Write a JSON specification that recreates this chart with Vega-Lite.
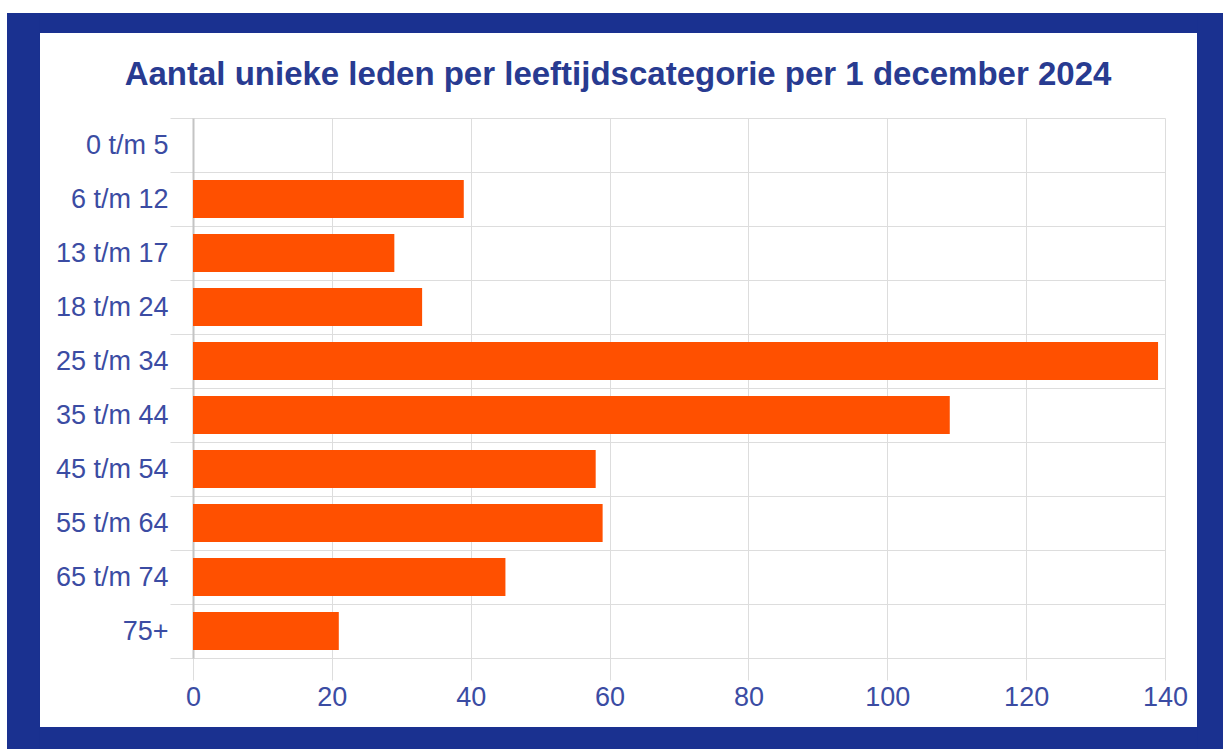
{
  "$schema": "https://vega.github.io/schema/vega-lite/v6.json",
  "autosize": {"type": "none"},
  "width": 972,
  "height": 540,
  "padding": {"left": 193, "top": 118, "right": 58, "bottom": 91},
  "background": "#ffffff",
  "config": {"view": {"stroke": null}, "font": "Liberation Sans"},
  "title": {
    "text": "Aantal unieke leden per leeftijdscategorie per 1 december 2024",
    "font": "Liberation Sans",
    "fontSize": 33,
    "fontWeight": "bold",
    "color": "#283b91",
    "anchor": "middle",
    "baseline": "alphabetic",
    "offset": -105,
    "dx": -61
  },
  "data": {
    "values": [
      {"categorie": "0 t/m 5", "leden": 0},
      {"categorie": "6 t/m 12", "leden": 39},
      {"categorie": "13 t/m 17", "leden": 29},
      {"categorie": "18 t/m 24", "leden": 33},
      {"categorie": "25 t/m 34", "leden": 139},
      {"categorie": "35 t/m 44", "leden": 109},
      {"categorie": "45 t/m 54", "leden": 58},
      {"categorie": "55 t/m 64", "leden": 59},
      {"categorie": "65 t/m 74", "leden": 45},
      {"categorie": "75+", "leden": 21}
    ]
  },
  "layer": [
    {
      "layer": [
        {"mark": {"type": "rect", "color": "#1a3190"},
         "encoding": {
           "x": {"datum": -26.79, "type": "quantitative", "scale": {"domain": [0, 140], "nice": false, "zero": false}},
           "x2": {"datum": 150},
           "y": {"datum": 625, "type": "quantitative", "axis": null, "scale": {"domain": [0, 540], "nice": false, "zero": false}},
           "y2": {"datum": 645}
         }},
        {"mark": {"type": "rect", "color": "#1a3190"},
         "encoding": {
           "x": {"datum": -26.79, "type": "quantitative"},
           "x2": {"datum": 150},
           "y": {"datum": -100, "type": "quantitative", "axis": null},
           "y2": {"datum": -69}
         }},
        {"mark": {"type": "rect", "color": "#1a3190"},
         "encoding": {
           "x": {"datum": -26.79, "type": "quantitative"},
           "x2": {"datum": -22.04},
           "y": {"datum": -100, "type": "quantitative", "axis": null},
           "y2": {"datum": 645}
         }},
        {"mark": {"type": "rect", "color": "#1a3190"},
         "encoding": {
           "x": {"datum": 144.61, "type": "quantitative"},
           "x2": {"datum": 150},
           "y": {"datum": -100, "type": "quantitative", "axis": null},
           "y2": {"datum": 645}
         }}
      ]
    },
    {
      "mark": {"type": "bar", "color": "#ff5000", "height": {"band": 0.7}},
      "encoding": {
        "y": {
          "field": "categorie",
          "type": "nominal",
          "sort": null,
          "scale": {"paddingInner": 0, "paddingOuter": 0},
          "axis": {
            "title": null,
            "tickBand": "extent",
            "grid": true,
            "gridColor": "#dddddd",
            "gridWidth": 1,
            "ticks": true,
            "tickSize": 23,
            "tickColor": "#dddddd",
            "domain": true,
            "domainColor": "#c4c4c4",
            "domainWidth": 2,
            "labelFont": "Liberation Sans",
            "labelFontSize": 27,
            "labelColor": "#3b4ca3",
            "labelPadding": 2
          }
        },
        "x": {
          "field": "leden",
          "type": "quantitative",
          "scale": {"domain": [0, 140], "nice": false, "zero": false},
          "axis": {
            "title": null,
            "values": [0, 20, 40, 60, 80, 100, 120, 140],
            "grid": true,
            "gridColor": "#dddddd",
            "gridWidth": 1,
            "ticks": true,
            "tickSize": 22,
            "tickColor": "#dddddd",
            "domain": false,
            "labelFlush": false,
            "labelFont": "Liberation Sans",
            "labelFontSize": 27,
            "labelColor": "#3b4ca3",
            "labelPadding": 4
          }
        }
      }
    }
  ],
  "resolve": {"scale": {"y": "independent"}}
}
